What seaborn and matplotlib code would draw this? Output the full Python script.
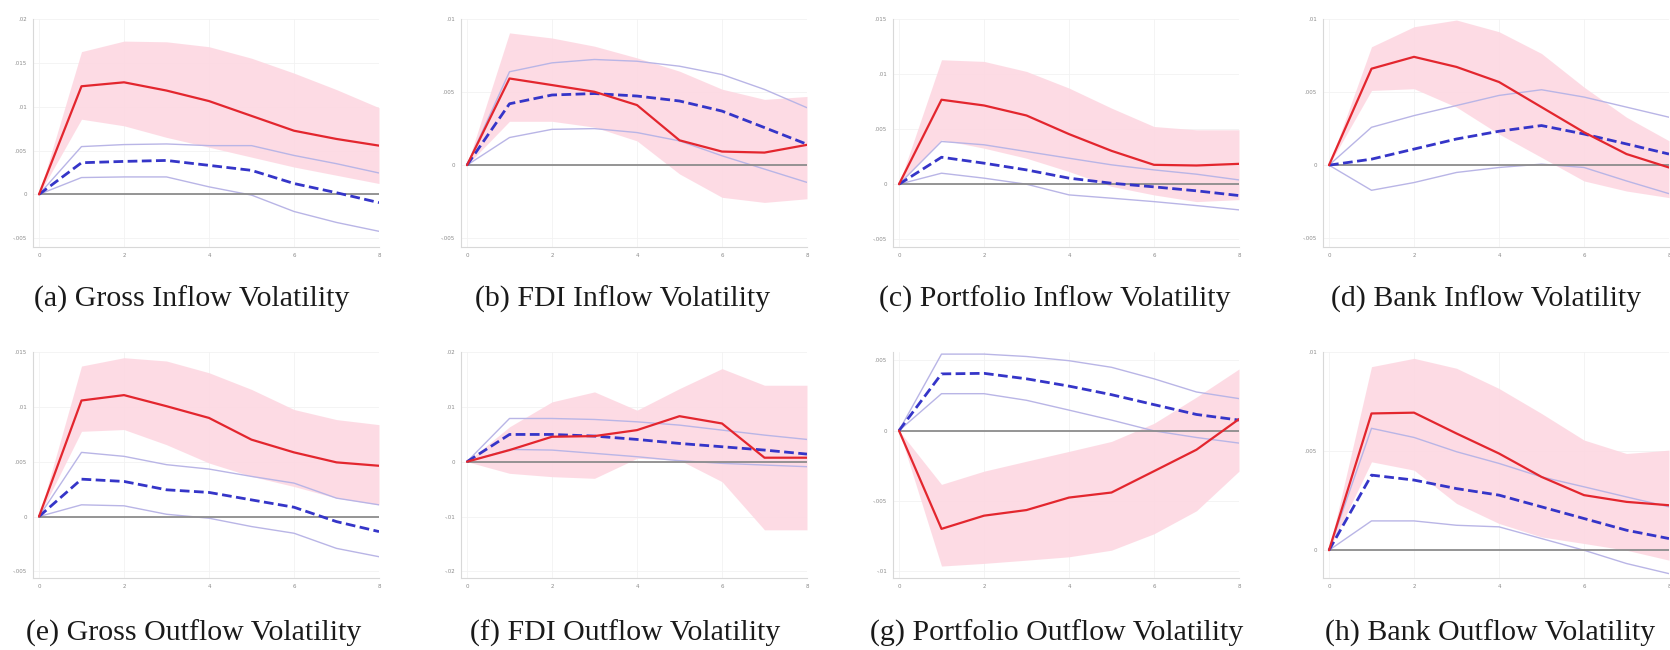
import numpy as np
import pandas as pd
import matplotlib
matplotlib.use("Agg")
import matplotlib.pyplot as plt
import seaborn as sns

sns.set_theme(style="white")
plt.rcParams['font.family'] = ['DejaVu Sans']

# horizon (quarters)
horizon = [0, 1, 2, 3, 4, 5, 6, 7, 8]

# (a) Gross inflow
a_red = [0, .01233, .01278, .01184, .01064, .00895, .00726, .00632, .00556]
a_red_hi = [0, .01628, .01748, .0174, .01684, .01553, .01383, .01195, .00989]
a_red_lo = [0, .00857, .00782, .0065, .00538, .00425, .00312, .00218, .00124]
a_blue = [0, .00361, .00376, .00387, .00331, .00274, .00124, .00019, -.00094]
a_blue_hi = [0, .00545, .00568, .00575, .00556, .00556, .00444, .0035, .00244]
a_blue_lo = [0, .00192, .00199, .00199, .00086, -.00008, -.00195, -.0032, -.00421]

# (b) FDI inflow
b_red = [0, .00593, .00548, .00502, .00411, .0017, .00093, .00086, .00139]
b_red_hi = [0, .00905, .0087, .00814, .00734, .00643, .0052, .0045, .0047]
b_red_lo = [0, .003, .003, .0026, .00166, -.0006, -.0022, -.00255, -.0023]
b_blue = [0, .0042, .0048, .0049, .00473, .00439, .0037, .00257, .00143]
b_blue_hi = [0, .00639, .007, .00723, .00711, .00677, .0062, .00518, .00393]
b_blue_lo = [0, .00189, .00245, .0025, .00223, .00166, .00064, -.00027, -.00118]

# (c) Portfolio inflow
c_red = [0, .00767, .00715, .00624, .00455, .00303, .00176, .0017, .00185]
c_red_hi = [0, .0113, .01115, .01024, .00873, .00691, .00524, .00494, .00494]
c_red_lo = [0, .00403, .00327, .00236, .00115, -.0002, -.00097, -.00158, -.0014]
c_blue = [0, .00245, .00191, .0013, .00055, .00009, -.00024, -.0006, -.00103]
c_blue_hi = [0, .00388, .00358, .00297, .00236, .00176, .0013, .00091, .00039]
c_blue_lo = [0, .001, .00055, 0, -.00097, -.00127, -.00158, -.00194, -.00233]

# (d) Bank inflow
d_red = [0, .0066, .00741, .00672, .00569, .00397, .00225, .00076, -.00016]
d_red_hi = [0, .0081, .00947, .00993, .00913, .00764, .00534, .00328, .00167]
d_red_lo = [0, .00511, .00523, .00397, .00213, .00053, -.00108, -.00177, -.00222]
d_blue = [0, .00041, .0011, .00179, .00232, .00271, .00213, .00145, .00076]
d_blue_hi = [0, .00259, .00339, .00408, .00477, .00516, .00466, .00397, .00328]
d_blue_lo = [0, -.00172, -.00119, -.0005, -.00016, .00007, -.00016, -.00108, -.00195]

# (e) Gross outflow
e_red = [0, .01058, .01107, .01006, .00899, .00701, .00585, .00494, .00463]
e_red_hi = [0, .01372, .01448, .01418, .01311, .01159, .00976, .00884, .00838]
e_red_lo = [0, .00777, .00793, .00655, .00488, .00366, .00274, .00168, .00107]
e_blue = [0, .00341, .0032, .00244, .0022, .00152, .00085, -.00046, -.00137]
e_blue_hi = [0, .00585, .00549, .00473, .00433, .00366, .00305, .00168, .00107]
e_blue_lo = [0, .00107, .00098, .00021, -.00015, -.00091, -.00152, -.0029, -.00366]

# (f) FDI outflow
f_red = [0, .00212, .00455, .00467, .00576, .0083, .00697, .00073, .00073]
f_red_hi = [0, .00636, .01091, .01273, .00939, .01333, .01697, .01394, .01394]
f_red_lo = [0, -.00212, -.00273, -.00303, .00061, .0003, -.00364, -.01242, -.01242]
f_blue = [0, .00497, .00497, .00467, .00406, .00333, .00273, .00212, .00139]
f_blue_hi = [0, .00788, .00788, .0077, .00727, .00667, .00576, .00485, .00406]
f_blue_lo = [0, .00224, .00212, .00152, .00091, .00018, -.0003, -.00061, -.00091]

# (g) Portfolio outflow
g_red = [0, -.007, -.00606, -.00566, -.00477, -.00441, -.00289, -.00136, .00082]
g_red_hi = [0, -.00383, -.00289, -.00218, -.00148, -.00077, .00052, .00239, .00439]
g_red_lo = [0, -.00965, -.00946, -.00923, -.00899, -.00852, -.00735, -.00571, -.00289]
g_blue = [0, .00404, .00408, .00369, .00317, .00256, .00185, .00115, .00075]
g_blue_hi = [0, .00545, .00545, .00528, .00498, .00451, .00369, .00275, .00228]
g_blue_lo = [0, .00263, .00263, .00216, .00146, .00075, -.00002, -.00049, -.00089]

# (h) Bank outflow
h_red = [0, .0069, .00694, .00589, .00488, .0037, .00278, .00244, .00227]
h_red_hi = [0, .00926, .00968, .00918, .00816, .0069, .00556, .00488, .00505]
h_red_lo = [0, .00446, .00404, .00236, .00135, .00067, .00034, 0, -.0005]
h_blue = [0, .00379, .00354, .00311, .00278, .00219, .0016, .00101, .00059]
h_blue_hi = [0, .00615, .00569, .00497, .00438, .0037, .0032, .00269, .00219]
h_blue_lo = [0, .00148, .00148, .00126, .00118, .00059, 0, -.00067, -.00118]

captions = ["(a) Gross Inflow Volatility", "(b) FDI Inflow Volatility",
            "(c) Portfolio Inflow Volatility", "(d) Bank Inflow Volatility",
            "(e) Gross Outflow Volatility", "(f) FDI Outflow Volatility",
            "(g) Portfolio Outflow Volatility", "(h) Bank Outflow Volatility"]

yticks = [[-.005, 0, .005, .01, .015, .02], [-.005, 0, .005, .01],
          [-.005, 0, .005, .01, .015], [-.005, 0, .005, .01],
          [-.005, 0, .005, .01, .015], [-.02, -.01, 0, .01, .02],
          [-.01, -.005, 0, .005], [0, .005, .01]]
ytick_labels = [["-.005", "0", ".005", ".01", ".015", ".02"], ["-.005", "0", ".005", ".01"],
                ["-.005", "0", ".005", ".01", ".015"], ["-.005", "0", ".005", ".01"],
                ["-.005", "0", ".005", ".01", ".015"], ["-.02", "-.01", "0", ".01", ".02"],
                ["-.01", "-.005", "0", ".005"], ["0", ".005", ".01"]]
ylims = [(-.006, .02), (-.0056, .01), (-.0057, .015), (-.0056, .01),
         (-.0056, .015), (-.0212, .02), (-.0105, .0056), (-.0014, .01)]
xticks = [0, 2, 4, 6, 8]

panels = [
    (a_red, a_red_lo, a_red_hi, a_blue, a_blue_lo, a_blue_hi),
    (b_red, b_red_lo, b_red_hi, b_blue, b_blue_lo, b_blue_hi),
    (c_red, c_red_lo, c_red_hi, c_blue, c_blue_lo, c_blue_hi),
    (d_red, d_red_lo, d_red_hi, d_blue, d_blue_lo, d_blue_hi),
    (e_red, e_red_lo, e_red_hi, e_blue, e_blue_lo, e_blue_hi),
    (f_red, f_red_lo, f_red_hi, f_blue, f_blue_lo, f_blue_hi),
    (g_red, g_red_lo, g_red_hi, g_blue, g_blue_lo, g_blue_hi),
    (h_red, h_red_lo, h_red_hi, h_blue, h_blue_lo, h_blue_hi),
]

W, H = 1670, 650
fig = plt.figure(figsize=(16.7, 6.5), dpi=100)

unit = 42.5  # px per horizon step
col_x0 = [39, 467, 899, 1329]
cap_x = [192, 623, 1055, 1486, 194, 625, 1057, 1490]
rows = [(19, 247, 307), (352, 578, 641)]  # top, bottom, caption baseline (px from top)

for i, (red, red_lo, red_hi, blue, blue_lo, blue_hi) in enumerate(panels):
    r, c = divmod(i, 4)
    top, bot, cap_y = rows[r]
    left = col_x0[c] - 0.15 * unit
    width = 8.15 * unit
    ax = fig.add_axes([left / W, 1 - bot / H, width / W, (bot - top) / H])

    ax.fill_between(horizon, red_lo, red_hi, color="#fdd8e2", alpha=0.9, lw=0)
    sns.lineplot(x=horizon, y=blue_hi, ax=ax, color="#b9b5e6", lw=1.0)
    sns.lineplot(x=horizon, y=blue_lo, ax=ax, color="#b9b5e6", lw=1.0)
    ax.plot([0, 8], [0, 0], color="#8c8c8c", lw=1.3)
    sns.lineplot(x=horizon, y=blue, ax=ax, color="#3535c8", lw=2.0, dashes=(3.5, 1.6))
    sns.lineplot(x=horizon, y=red, ax=ax, color="#e3262e", lw=1.6)

    ax.set_xlim(-0.15, 8.0)
    ax.set_ylim(*ylims[i])
    ax.set_xticks(xticks)
    ax.set_xticklabels([str(t) for t in xticks])
    ax.set_yticks(yticks[i])
    ax.set_yticklabels(ytick_labels[i])
    ax.tick_params(axis="both", labelsize=4, colors="#8a8a8a", length=2, width=0.5, pad=2)
    ax.grid(True, color="#f2f2f2", lw=0.6)
    for s in ["top", "right"]:
        ax.spines[s].set_visible(False)
    for s in ["left", "bottom"]:
        ax.spines[s].set_color("#d8d8d8")
        ax.spines[s].set_linewidth(0.8)
    ax.set_xlabel("")
    ax.set_ylabel("")

    fig.text(cap_x[i] / W, 1 - cap_y / H, captions[i], ha="center", va="baseline",
             fontsize=21.5, family=["Liberation Serif", "DejaVu Serif"], color="#1a1a1a")

fig.savefig("out.png", dpi=100)
